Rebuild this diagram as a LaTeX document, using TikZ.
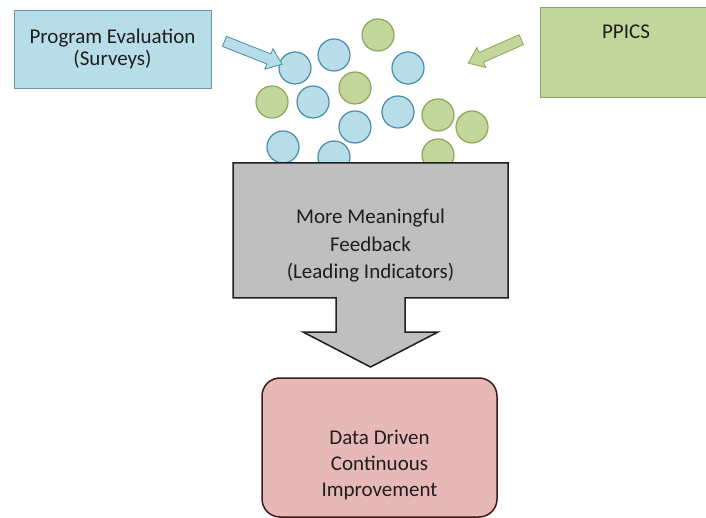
\documentclass[tikz,border=0pt]{standalone}
\usepackage{fontspec}
\setmainfont{Carlito}
\usetikzlibrary{arrows.meta,calc,shapes.arrows}
\definecolor{svyblue}{HTML}{B7DEE8}
\definecolor{svyline}{HTML}{4A8CA6}
\definecolor{svybox}{HTML}{6F95A3}
\definecolor{ppgreen}{HTML}{C3D69B}
\definecolor{ppline}{HTML}{8DA65A}
\definecolor{ppbox}{HTML}{8E9C70}
\definecolor{fbgray}{HTML}{BFBFBF}
\definecolor{cipink}{HTML}{E6B9B8}
\definecolor{inkdark}{HTML}{1E1E1E}
\tikzset{
    >=Stealth,
    flow/.style={
        x=1pt,y=-1pt,
        every node/.append style={font=\fontsize{21}{26}\selectfont,text=inkdark,align=center},
        srcbox/.append style={draw,thick,rectangle,inner sep=0pt},
        dot/.append style={draw,circle,line width=1.2pt,minimum size=32pt,inner sep=0pt},
        bluedot/.append style={dot,fill=svyblue,draw=svyline},
        greendot/.append style={dot,fill=ppgreen,draw=ppline},
        block/.append style={single arrow,draw,thick,inner sep=5pt,
            single arrow head extend=5.5pt,single arrow tip angle=75,
            sloped,allow upside down,anchor=center},
        funnel/.append style={draw=inkdark,line width=1.5pt,fill=fbgray,line join=miter},
        goal/.append style={draw=inkdark!85!red,line width=1.5pt,fill=cipink,rounded corners=18pt,rectangle,inner sep=0pt}
    }
}

\begin{document}
\begin{tikzpicture}[flow]
    \useasboundingbox (0,0) rectangle (706,518);
    \clip (0,0) rectangle (706,518);

    % the two sources
    \node[srcbox,fill=svyblue,draw=svybox,minimum width=197pt,minimum height=78pt,
        font=\fontsize{21}{22}\selectfont] (surveys) at (112.5,49)
        {Program Evaluation\\(Surveys)};
    \node[srcbox,fill=ppgreen,draw=ppbox,minimum width=190pt,minimum height=90pt] (ppics) at (635,52) {};
    \node (ppicslbl) at (626,32) {PPICS};

    % the data points falling in
    \foreach \x/\y [count=\i] in {295/68,334/55,408/68,313/102,398/112,355/127,283/147,334/157}
        \node[bluedot] (b\i) at (\x,\y) {};
    \foreach \x/\y [count=\i] in {378/35,355/88,272/102,438/115,472/127,438/155}
        \node[greendot] (g\i) at (\x,\y) {};

    % block arrows into the pile
    \coordinate (btail) at (221,40);
    \coordinate (bhead) at (279,63);
    \coordinate (gtail) at (525,38);
    \coordinate (ghead) at (471,62);
    \path (btail) -- (bhead) node[midway,block,fill=svyblue,draw=svyline,minimum height=62pt] (barrow) {};
    \path (gtail) -- (ghead) node[midway,block,fill=ppgreen,draw=ppline,minimum height=58pt] (garrow) {};

    % funnel with its arrow
    \draw[funnel] (233,163) -- (508,163) -- (508,298) -- (405,298) -- (405,332) -- (438,332)
        -- (370.5,367) -- (303,332) -- (336,332) -- (336,298) -- (233,298) -- cycle;
    \node[font=\fontsize{21}{27.5}\selectfont] (feedback) at (370.5,246)
        {More Meaningful\\Feedback\\(Leading Indicators)};

    % outcome
    \node[goal,minimum width=235pt,minimum height=139pt] (improve) at (379.5,447.5) {};
    \node (improvelbl) at ($(improve.center)+(0,17.5)$) {Data Driven\\Continuous\\Improvement};
\end{tikzpicture}
\end{document}
